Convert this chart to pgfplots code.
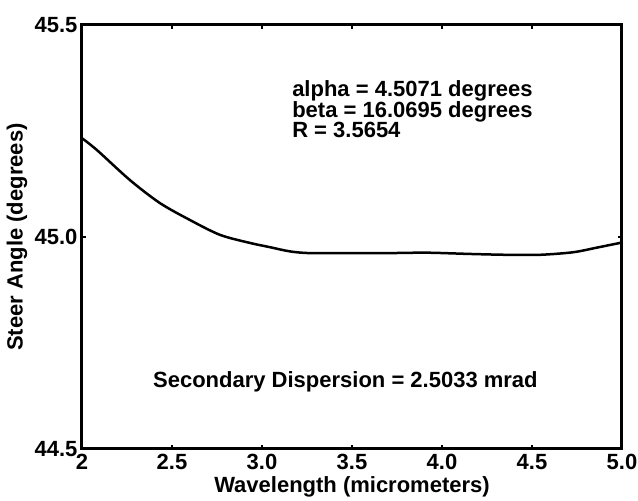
\documentclass[border=0pt]{standalone}
\usepackage{fontspec}
\setmainfont{Liberation Sans}
\usepackage{pgfplots}
\pgfplotsset{compat=1.18}
\begin{document}
\begin{tikzpicture}
\path[use as bounding box] (-82pt,-52pt) rectangle (556pt,449pt);
\begin{axis}[
  scale only axis,
  width=540pt, height=424pt,
  xmin=2, xmax=5, ymin=44.5, ymax=45.5,
  xtick={2,2.5,3,3.5,4,4.5,5},
  xticklabels={2,2.5,3.0,3.5,4.0,4.5,5.0},
  ytick={44.5,45,45.5},
  yticklabels={44.5,45.0,45.5},
  /pgf/number format/assume math mode=true,
  tick align=inside,
  major tick length=4pt,
  every tick/.style={black, line width=1.5pt},
  axis line style={line width=3pt, black},
  tick label style={font=\fontsize{22}{22}\selectfont\bfseries},
  xticklabel style={yshift=-2pt},
  yticklabel style={xshift=-1pt},
  xlabel={Wavelength (micrometers)},
  ylabel={Steer Angle (degrees)},
  every axis x label/.style={at={(axis description cs:0.5,0)}, yshift=-43pt, anchor=base, font=\fontsize{22}{22}\selectfont\bfseries},
  every axis y label/.style={at={(axis description cs:0,0.5)}, xshift=-65pt, rotate=90, anchor=center, font=\fontsize{22}{22}\selectfont\bfseries},
  clip=false,
]
\addplot[black, line width=2.5pt, smooth, tension=0.5] coordinates {
(2.000,45.233)
(2.083,45.205)
(2.267,45.134)
(2.433,45.080)
(2.600,45.040)
(2.767,45.005)
(2.933,44.986)
(3.044,44.976)
(3.156,44.966)
(3.267,44.962)
(3.489,44.962)
(3.700,44.962)
(3.917,44.963)
(4.156,44.960)
(4.361,44.958)
(4.544,44.958)
(4.728,44.964)
(4.861,44.975)
(5.000,44.987)
};
\node[anchor=base west, inner sep=0pt, font=\fontsize{22}{22}\selectfont\bfseries] at (axis cs:3.167,45.3325) {alpha = 4.5071 degrees};
\node[anchor=base west, inner sep=0pt, font=\fontsize{22}{22}\selectfont\bfseries] at (axis cs:3.167,45.283) {beta = 16.0695 degrees};
\node[anchor=base west, inner sep=0pt, font=\fontsize{22}{22}\selectfont\bfseries] at (axis cs:3.167,45.2335) {R = 3.5654};
\node[anchor=base west, inner sep=0pt, font=\fontsize{22}{22}\selectfont\bfseries] at (axis cs:2.394,44.645) {Secondary Dispersion = 2.5033 mrad};
\end{axis}
\end{tikzpicture}
\end{document}
